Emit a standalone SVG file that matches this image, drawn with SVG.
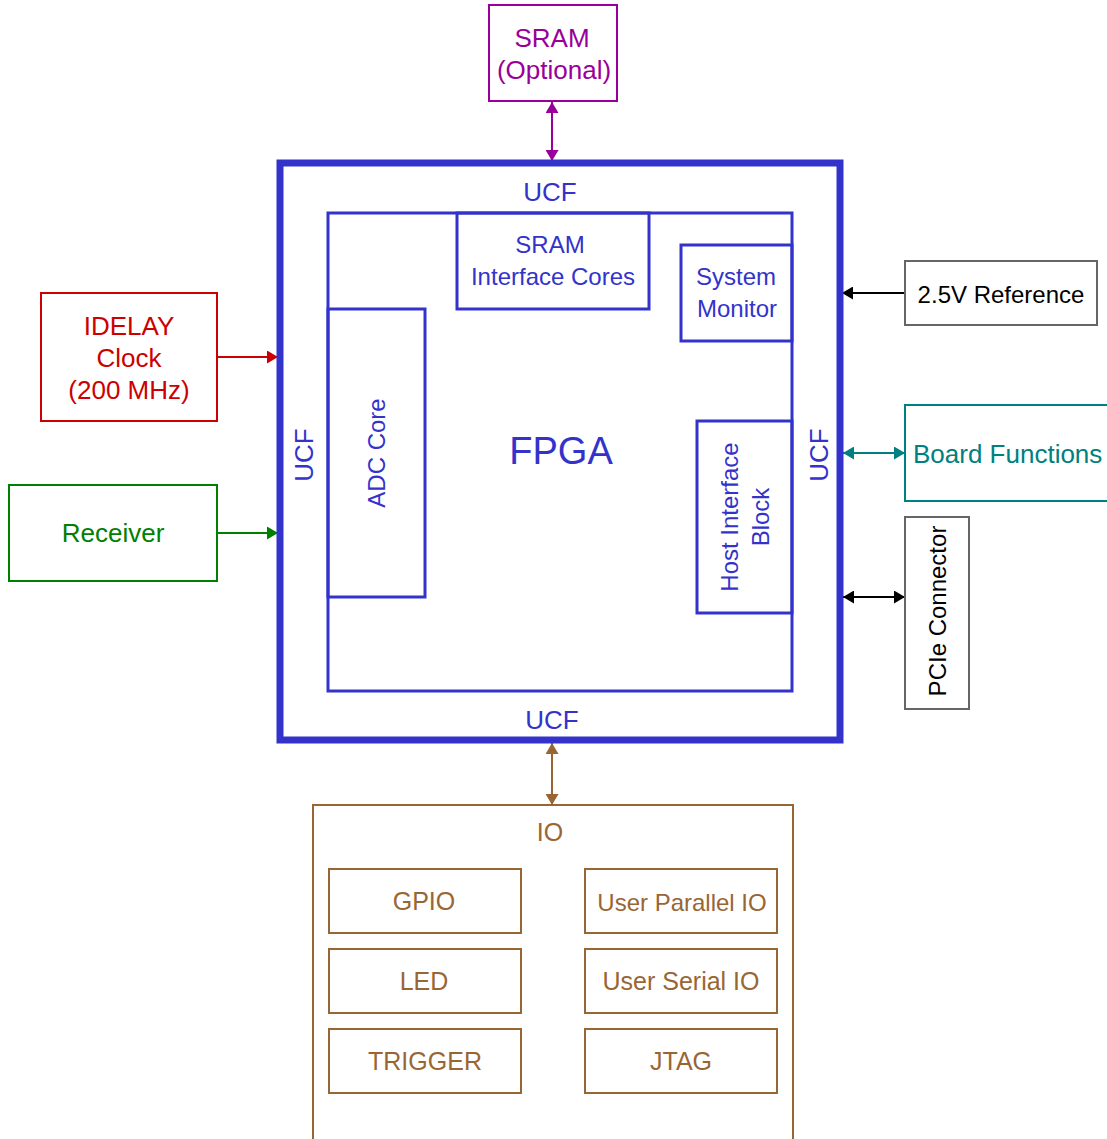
<svg xmlns="http://www.w3.org/2000/svg" width="1107" height="1139" viewBox="0 0 1107 1139">
<style>
text{font-family:"Liberation Sans",Arial,sans-serif;text-anchor:middle}
.b{fill:none;stroke:#3333cc;stroke-width:3}
.bt{fill:#3333cc;font-size:24px}
.br{fill:none;stroke:#996633;stroke-width:2}
.brt{fill:#996633;font-size:25px}
.c{fill:none;stroke-width:2}
</style>
<defs>
<marker id="mp" viewBox="0 0 11 13" refX="11" refY="6.5" markerWidth="11" markerHeight="13" markerUnits="userSpaceOnUse" orient="auto-start-reverse"><path d="M0,0L11,6.5L0,13z" fill="#990099"/></marker>
<marker id="mr" viewBox="0 0 11 13" refX="11" refY="6.5" markerWidth="11" markerHeight="13" markerUnits="userSpaceOnUse" orient="auto-start-reverse"><path d="M0,0L11,6.5L0,13z" fill="#cc0000"/></marker>
<marker id="mg" viewBox="0 0 11 13" refX="11" refY="6.5" markerWidth="11" markerHeight="13" markerUnits="userSpaceOnUse" orient="auto-start-reverse"><path d="M0,0L11,6.5L0,13z" fill="#008000"/></marker>
<marker id="mk" viewBox="0 0 11 13" refX="11" refY="6.5" markerWidth="11" markerHeight="13" markerUnits="userSpaceOnUse" orient="auto-start-reverse"><path d="M0,0L11,6.5L0,13z" fill="#000"/></marker>
<marker id="mt" viewBox="0 0 11 13" refX="11" refY="6.5" markerWidth="11" markerHeight="13" markerUnits="userSpaceOnUse" orient="auto-start-reverse"><path d="M0,0L11,6.5L0,13z" fill="#008080"/></marker>
<marker id="mb" viewBox="0 0 11 13" refX="11" refY="6.5" markerWidth="11" markerHeight="13" markerUnits="userSpaceOnUse" orient="auto-start-reverse"><path d="M0,0L11,6.5L0,13z" fill="#996633"/></marker>
</defs>
<rect width="1107" height="1139" fill="#fff"/>

<g id="connectors">
<line x1="552" y1="102" x2="552" y2="161" class="c" stroke="#990099" marker-start="url(#mp)" marker-end="url(#mp)"/>
<line x1="217" y1="357" x2="278" y2="357" class="c" stroke="#cc0000" marker-end="url(#mr)"/>
<line x1="217" y1="533" x2="278" y2="533" class="c" stroke="#008000" marker-end="url(#mg)"/>
<line x1="905" y1="293" x2="842" y2="293" class="c" stroke="#000" marker-end="url(#mk)"/>
<line x1="843" y1="453" x2="905" y2="453" class="c" stroke="#008080" marker-start="url(#mt)" marker-end="url(#mt)"/>
<line x1="843" y1="597" x2="905" y2="597" class="c" stroke="#000" marker-start="url(#mk)" marker-end="url(#mk)"/>
<line x1="552" y1="743" x2="552" y2="805" class="c" stroke="#996633" marker-start="url(#mb)" marker-end="url(#mb)"/>
</g>

<g id="fpga">
<rect x="280" y="163" width="560" height="577" fill="none" stroke="#3333cc" stroke-width="7"/>
<rect x="328" y="213" width="464" height="478" class="b"/>
<text x="550" y="201" class="bt" style="font-size:26px">UCF</text>
<text x="552" y="729" class="bt" style="font-size:26px">UCF</text>
<text transform="translate(313,455) rotate(-90)" class="bt" style="font-size:26px">UCF</text>
<text transform="translate(828,455) rotate(-90)" class="bt" style="font-size:26px">UCF</text>
<text x="561" y="464" fill="#3333cc" font-size="38">FPGA</text>
</g>

<g id="sram-if">
<rect x="457" y="213" width="192" height="96" class="b" stroke-width="2"/>
<text x="550" y="253" class="bt">SRAM</text>
<text x="553" y="285" class="bt">Interface Cores</text>
</g>

<g id="sysmon">
<rect x="681" y="245" width="111" height="96" class="b" stroke-width="2"/>
<text x="736" y="285" class="bt">System</text>
<text x="737" y="317" class="bt">Monitor</text>
</g>

<g id="adc">
<rect x="328" y="309" width="97" height="288" class="b" stroke-width="2"/>
<text transform="translate(385,453) rotate(-90)" class="bt">ADC Core</text>
</g>

<g id="host">
<rect x="697" y="421" width="95" height="192" class="b" stroke-width="2"/>
<text transform="translate(738,517) rotate(-90)" class="bt">Host Interface</text>
<text transform="translate(769,517) rotate(-90)" class="bt">Block</text>
</g>

<g id="sram">
<rect x="489" y="5" width="128" height="96" fill="none" stroke="#990099" stroke-width="2"/>
<text x="552" y="47" fill="#990099" font-size="26">SRAM</text>
<text x="554" y="79" fill="#990099" font-size="26">(Optional)</text>
</g>

<g id="idelay">
<rect x="41" y="293" width="176" height="128" fill="none" stroke="#cc0000" stroke-width="2"/>
<text x="129" y="335" fill="#cc0000" font-size="26">IDELAY</text>
<text x="129" y="367" fill="#cc0000" font-size="26">Clock</text>
<text x="129" y="399" fill="#cc0000" font-size="26">(200 MHz)</text>
</g>

<g id="receiver">
<rect x="9" y="485" width="208" height="96" fill="none" stroke="#008000" stroke-width="2"/>
<text x="113" y="542" fill="#008000" font-size="26">Receiver</text>
</g>

<g id="ref25">
<rect x="905" y="261" width="192" height="64" fill="none" stroke="#666" stroke-width="2"/>
<text x="1001" y="303" fill="#000" font-size="24">2.5V Reference</text>
</g>

<g id="board">
<rect x="905" y="405" width="210" height="96" fill="none" stroke="#008080" stroke-width="2"/>
<text x="913" y="463" fill="#008080" font-size="26" style="text-anchor:start">Board Functions</text>
</g>

<g id="pcie">
<rect x="905" y="517" width="64" height="192" fill="none" stroke="#666" stroke-width="2"/>
<text transform="translate(946,611) rotate(-90)" fill="#000" font-size="24">PCIe Connector</text>
</g>

<g id="io">
<rect x="313" y="805" width="480" height="340" class="br"/>
<text x="550" y="841" class="brt">IO</text>
</g>
<g id="gpio"><rect x="329" y="869" width="192" height="64" class="br"/><text x="424" y="910" class="brt">GPIO</text></g>
<g id="led"><rect x="329" y="949" width="192" height="64" class="br"/><text x="424" y="990" class="brt">LED</text></g>
<g id="trigger"><rect x="329" y="1029" width="192" height="64" class="br"/><text x="425" y="1070" class="brt">TRIGGER</text></g>
<g id="upio"><rect x="585" y="869" width="192" height="64" class="br"/><text x="682" y="911" class="brt" style="font-size:24px">User Parallel IO</text></g>
<g id="usio"><rect x="585" y="949" width="192" height="64" class="br"/><text x="681" y="990" class="brt">User Serial IO</text></g>
<g id="jtag"><rect x="585" y="1029" width="192" height="64" class="br"/><text x="681" y="1070" class="brt">JTAG</text></g>
</svg>
